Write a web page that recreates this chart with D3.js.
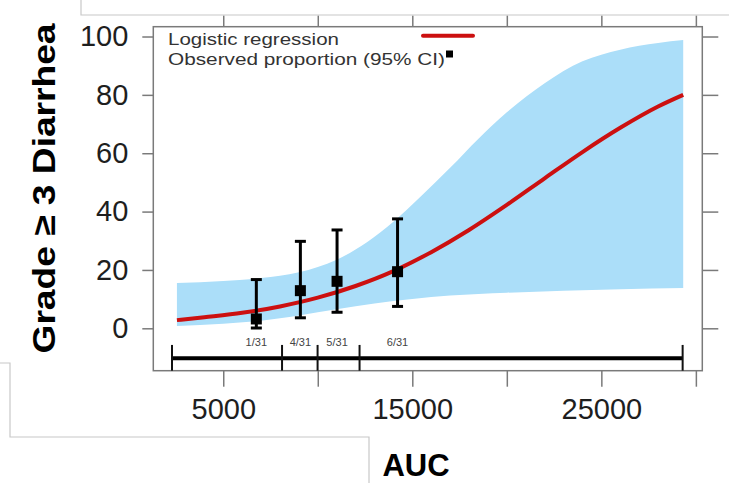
<!DOCTYPE html>
<html>
<head>
<meta charset="utf-8">
<script src="https://cdn.jsdelivr.net/npm/d3@7/dist/d3.min.js"></script>
<style>
  html, body { margin: 0; padding: 0; background: #fff; }
  svg { display: block; }
  text { font-family: "Liberation Sans", Arial, Helvetica, sans-serif; }
</style>
</head>
<body>
<svg id="chart" width="729" height="483"></svg>
<script>
// ---- data ----
const xTicks = [5000, 10000, 15000, 20000, 25000, 30000];
const xTickLabels = ["5000", "", "15000", "", "25000", ""];
const yTicks = [0, 20, 40, 60, 80, 100];

// logistic regression fit (AUC, % with grade >= 3 diarrhea)
const fitAUC = [2550, 4000, 6000, 8000, 10000, 12000, 14000, 16000, 18000, 20000, 22000, 24000, 26000, 28000, 29330];
const fitPct = [2.8, 3.8, 5.3, 7.5, 10.5, 14.5, 19.6, 26.1, 33.7, 42.3, 51.4, 60.4, 68.7, 76.0, 80.0];

// 95% confidence band
const bandUpAUC = [2550, 5000, 7000, 9000, 11000, 12600, 14000, 15500, 17000, 18500, 20000, 22000, 24000, 26000, 28000, 29330];
const bandUpPct = [15.5, 16.2, 17.2, 19.2, 23.5, 29.5, 36.5, 45.5, 55, 65, 74, 84, 91.5, 95.5, 97.8, 98.8];
const bandLoAUC = [2550, 5000, 7000, 9000, 11000, 13000, 15000, 17000, 20000, 23000, 26000, 29330];
const bandLoPct = [0.8, 1.6, 2.6, 4.4, 6.5, 8.5, 10, 11.2, 12.2, 12.9, 13.4, 13.8];

// observed proportions per AUC quartile bin
const binLabels = ["1/31", "4/31", "5/31", "6/31"];
const obsAUC = [6750, 9080, 11020, 14220];
const obsPct = [3.2, 12.9, 16.1, 19.4];
const ciLow = [0.1, 3.6, 5.5, 7.5];
const ciHigh = [16.7, 29.8, 33.7, 37.5];
const binEdges = [2290, 8110, 9990, 12210, 29300];

// ---- drawing ----
const svg = d3.select("#chart");
const L = 153.3, R = 702.3, T = 26.7, B = 370.7;

const x = d3.scaleLinear().domain([1300, 30340]).range([L, R]);
const y = d3.scaleLinear().domain([-14.53, 103.36]).range([B, T]);

// decorative gray frame lines from source image
svg.append("path")
  .attr("d", `M81,0 V15 H729`)
  .attr("fill", "none").attr("stroke", "#c8c8c8").attr("stroke-width", 1.2);
svg.append("path")
  .attr("d", `M0,363 H10 V437 H369 V483`)
  .attr("fill", "none").attr("stroke", "#c8c8c8").attr("stroke-width", 1.2);

// confidence band: upper edge left->right, lower edge right->left
const edge = d3.line().x(d => x(d[0])).y(d => y(d[1])).curve(d3.curveMonotoneX);
const upPath = edge(bandUpAUC.map((a, i) => [a, bandUpPct[i]]));
const loPath = edge(bandLoAUC.map((a, i) => [a, bandLoPct[i]]).reverse());
svg.append("path")
  .attr("d", upPath + "L" + loPath.slice(1) + "Z")
  .attr("fill", "#abdef9");

// axes
const axisColor = "#7a7a7a";
function styleAxis(g) {
  g.select(".domain").remove();
  g.selectAll(".tick line").attr("stroke", axisColor).attr("stroke-width", 1.5);
  g.selectAll(".tick text").attr("fill", "#1e1e1e").attr("font-size", 29);
}
svg.append("g").attr("transform", `translate(${L},0)`)
  .call(d3.axisLeft(y).tickValues(yTicks).tickSize(11).tickPadding(14))
  .call(styleAxis);
svg.append("g").attr("transform", `translate(${R},0)`)
  .call(d3.axisRight(y).tickValues(yTicks).tickSize(16).tickFormat(""))
  .call(styleAxis);
svg.append("g").attr("transform", `translate(0,${B})`)
  .call(d3.axisBottom(x).tickValues(xTicks).tickSize(16).tickPadding(12)
    .tickFormat((d, i) => xTickLabels[i]))
  .call(styleAxis);
svg.append("g").attr("transform", `translate(0,${T})`)
  .call(d3.axisTop(x).tickValues(xTicks).tickSize(11).tickFormat(""))
  .call(styleAxis);

// plot frame
svg.append("rect")
  .attr("x", L).attr("y", T).attr("width", R - L).attr("height", B - T)
  .attr("fill", "none").attr("stroke", axisColor).attr("stroke-width", 1.5);

// logistic fit line
svg.append("path")
  .datum(fitAUC.map((a, i) => [a, fitPct[i]]))
  .attr("d", edge)
  .attr("fill", "none").attr("stroke", "#cc1010").attr("stroke-width", 4);

// error bars
const capW = 11;
const eb = svg.append("g").attr("stroke", "#000").attr("stroke-width", 3);
obsAUC.forEach((a, i) => {
  eb.append("line").attr("x1", x(a)).attr("x2", x(a)).attr("y1", y(ciLow[i])).attr("y2", y(ciHigh[i]));
  eb.append("line").attr("x1", x(a) - capW / 2).attr("x2", x(a) + capW / 2).attr("y1", y(ciLow[i])).attr("y2", y(ciLow[i]));
  eb.append("line").attr("x1", x(a) - capW / 2).attr("x2", x(a) + capW / 2).attr("y1", y(ciHigh[i])).attr("y2", y(ciHigh[i]));
});
// points
const sq = 11;
svg.append("g").selectAll("rect").data(obsAUC).join("rect")
  .attr("x", d => x(d) - sq / 2).attr("y", (d, i) => y(obsPct[i]) - sq / 2)
  .attr("width", sq).attr("height", sq).attr("fill", "#000");

// bin labels
svg.append("g").selectAll("text").data(binLabels).join("text")
  .attr("x", (d, i) => x(obsAUC[i])).attr("y", 345.5)
  .attr("text-anchor", "middle").attr("font-size", 11).attr("fill", "#444")
  .text(d => d);

// bin range bar
const barLevel = -10.25, divTop = -5.7;
svg.append("line")
  .attr("x1", x(binEdges[0])).attr("x2", x(binEdges[binEdges.length - 1]))
  .attr("y1", y(barLevel)).attr("y2", y(barLevel))
  .attr("stroke", "#000").attr("stroke-width", 4);
svg.append("g").selectAll("line").data(binEdges).join("line")
  .attr("x1", d => x(d)).attr("x2", d => x(d))
  .attr("y1", y(divTop)).attr("y2", B)
  .attr("stroke", "#111").attr("stroke-width", 2);

// legend
svg.append("text").attr("x", 168).attr("y", 45).attr("font-size", 16.5).attr("fill", "#333")
  .attr("textLength", 171).attr("lengthAdjust", "spacingAndGlyphs")
  .text("Logistic regression");
svg.append("text").attr("x", 168).attr("y", 64.5).attr("font-size", 16.5).attr("fill", "#333")
  .attr("textLength", 277).attr("lengthAdjust", "spacingAndGlyphs")
  .text("Observed proportion (95% CI)");
svg.append("line").attr("x1", 423).attr("x2", 473).attr("y1", 35.7).attr("y2", 35.7)
  .attr("stroke", "#cc1010").attr("stroke-width", 4).attr("stroke-linecap", "round");
svg.append("rect").attr("x", 446).attr("y", 50.5).attr("width", 7).attr("height", 7).attr("fill", "#000");

// axis titles
svg.append("text")
  .attr("transform", "translate(55,188.5) rotate(-90)")
  .attr("text-anchor", "middle").attr("font-size", 32).attr("font-weight", "bold").attr("fill", "#000")
  .attr("textLength", 330).attr("lengthAdjust", "spacingAndGlyphs")
  .text("Grade \u2265 3 Diarrhea");
svg.append("text")
  .attr("x", 416).attr("y", 476)
  .attr("text-anchor", "middle").attr("font-size", 31).attr("font-weight", "bold").attr("fill", "#000")
  .text("AUC");
</script>
</body>
</html>
